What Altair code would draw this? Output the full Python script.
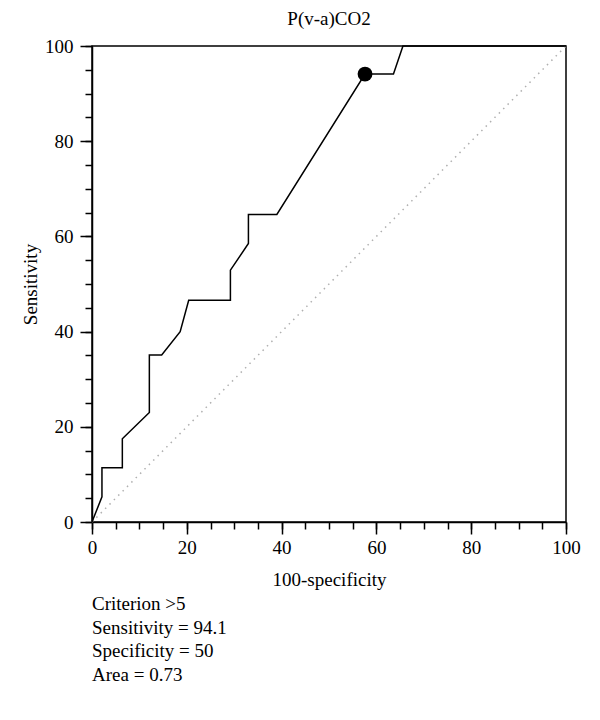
import altair as alt
import pandas as pd

# ROC curve points (100-specificity, sensitivity)
fpr = [0, 2.1, 2.1, 6.4, 6.4, 12.1, 12.1, 14.7, 18.6, 20.4, 29.2, 29.2, 33.0, 33.0, 39.0, 57.6, 63.6, 65.6, 100]
tpr = [0, 5.3, 11.4, 11.4, 17.5, 23.0, 35.1, 35.1, 40.0, 46.6, 46.6, 52.9, 58.5, 64.6, 64.6, 94.1, 94.1, 100, 100]

diag_x = [0, 100]
diag_y = [0, 100]

cut_x = [57.6]
cut_y = [94.1]

chart_title = "P(v-a)CO2"
x_title = "100-specificity"
y_title = "Sensitivity"
stats_lines = ["Criterion >5", "Sensitivity = 94.1", "Specificity = 50", "Area = 0.73"]

major_ticks = [0, 20, 40, 60, 80, 100]
minor_ticks = list(range(0, 101, 5))

FONT = "Liberation Serif"
W, H = 474, 476

curve_df = pd.DataFrame({"x": fpr, "y": tpr, "i": list(range(len(fpr)))})
diag_df = pd.DataFrame({"x": diag_x, "y": diag_y})
cut_df = pd.DataFrame({"x": cut_x, "y": cut_y})

xs = alt.Scale(domain=[0, 100], nice=False, zero=False)
ys = alt.Scale(domain=[0, 100], nice=False, zero=False)

common_axis = dict(
    domainColor="black", domainWidth=1.5, tickColor="black", tickWidth=1.5,
    labelFont=FONT, labelFontSize=19, labelColor="black",
    titleFont=FONT, titleFontSize=19, titleColor="black", titleFontWeight="normal",
    grid=False,
)

curve = alt.Chart(curve_df).mark_line(color="black", strokeWidth=1.5).encode(
    x=alt.X("x:Q", scale=xs, axis=alt.Axis(values=major_ticks, tickSize=12, title=x_title,
                                            labelPadding=4, titlePadding=13, orient="bottom",
                                            labelFlush=False, **common_axis)),
    y=alt.Y("y:Q", scale=ys, axis=alt.Axis(values=major_ticks, tickSize=12, title=y_title,
                                            labelPadding=7, titlePadding=4, orient="left",
                                            labelFlush=False, **common_axis)),
    order="i:Q",
)

diag = alt.Chart(diag_df).mark_line(color="#b0b0b0", strokeWidth=1.5, strokeDash=[1.5, 4.7]).encode(
    x=alt.X("x:Q", scale=xs, axis=alt.Axis(values=minor_ticks, tickSize=7, labels=False, title=None,
                                            domain=False, orient="bottom", tickColor="black",
                                            tickWidth=1.5, grid=False)),
    y=alt.Y("y:Q", scale=ys, axis=alt.Axis(values=minor_ticks, tickSize=7, labels=False, title=None,
                                            domain=False, orient="left", tickColor="black",
                                            tickWidth=1.5, grid=False)),
)

dot = alt.Chart(cut_df).mark_circle(color="black", opacity=1, size=220).encode(
    x=alt.X("x:Q", scale=xs, axis=None),
    y=alt.Y("y:Q", scale=ys, axis=None),
)

layers = [diag, curve, dot]
for i, line in enumerate(stats_lines):
    layers.append(
        alt.Chart(pd.DataFrame({"t": [line]})).mark_text(
            align="left", baseline="alphabetic", font=FONT, fontSize=19, color="black"
        ).encode(text="t:N", x=alt.value(0), y=alt.value(H + 88 + i * 23.5))
    )

chart = alt.layer(*layers).resolve_axis(x="independent", y="independent").properties(
    width=W, height=H,
    title=alt.TitleParams(chart_title, font=FONT, fontSize=19, fontWeight="normal",
                          color="black", anchor="middle", offset=8),
    autosize=alt.AutoSizeParams(type="none"),
    padding={"left": 84, "top": 38, "right": 26, "bottom": 190},
).configure_view(stroke="black", strokeWidth=1.5)

chart.save("out.html", embed_options={"renderer": "svg", "actions": False})
